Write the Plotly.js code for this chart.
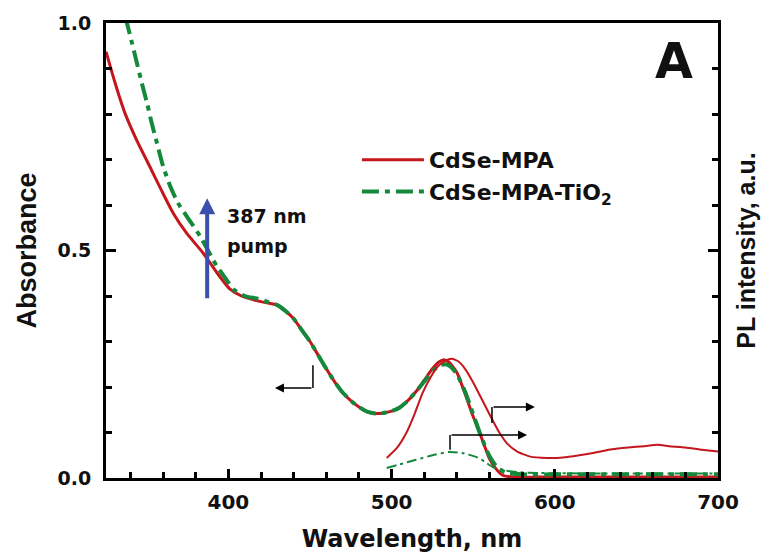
<!DOCTYPE html>
<html>
<head>
<meta charset="utf-8">
<script src="https://cdn.plot.ly/plotly-3.0.1.min.js"></script>
<style>html,body{margin:0;padding:0;background:#fff;}#chart{width:766px;height:557px;}</style>
</head>
<body>
<div id="chart"></div>
<script>
// ---- Data ----
// Absorbance, CdSe-MPA
const absMpaX = [325, 329, 333, 336.6, 344, 351.9, 359, 366.2, 374.4, 384.6, 392.8, 401, 408, 415, 422, 430, 435, 440, 445, 450, 455, 460, 465, 470, 475, 480, 485, 490, 495, 500, 505, 510, 515, 520, 525, 529, 532, 535, 540, 545, 550, 554, 557, 560, 564, 568, 575, 590, 620, 660, 700];
const absMpaY = [0.937, 0.887, 0.840, 0.802, 0.741, 0.684, 0.632, 0.582, 0.538, 0.494, 0.452, 0.415, 0.400, 0.392, 0.386, 0.380, 0.367, 0.350, 0.325, 0.300, 0.270, 0.240, 0.212, 0.188, 0.170, 0.156, 0.146, 0.142, 0.143, 0.147, 0.155, 0.170, 0.190, 0.215, 0.240, 0.255, 0.260, 0.255, 0.232, 0.185, 0.135, 0.099, 0.070, 0.042, 0.020, 0.006, 0.002, 0.002, 0.002, 0.002, 0.002];
// Absorbance, CdSe-MPA-TiO2
const absTiX = [337, 341, 344, 347, 350.2, 353, 356.3, 360, 364.5, 369, 374.7, 382.9, 393, 398, 403, 410, 418, 425, 430, 435, 440, 445, 450, 455, 460, 465, 470, 475, 480, 485, 490, 495, 500, 505, 510, 515, 520, 525, 530, 533, 536, 540, 545, 550, 555, 560, 565, 570, 580, 600, 650, 700];
const absTiY = [1.012, 0.955, 0.911, 0.867, 0.823, 0.780, 0.735, 0.685, 0.640, 0.605, 0.574, 0.530, 0.465, 0.440, 0.415, 0.400, 0.394, 0.386, 0.380, 0.367, 0.350, 0.325, 0.300, 0.270, 0.240, 0.212, 0.188, 0.170, 0.156, 0.146, 0.142, 0.143, 0.147, 0.155, 0.170, 0.190, 0.212, 0.235, 0.248, 0.250, 0.245, 0.228, 0.190, 0.140, 0.090, 0.048, 0.022, 0.012, 0.008, 0.008, 0.008, 0.008];
// PL, CdSe-MPA
const plMpaX = [497, 503, 509, 514, 519, 524, 528, 533, 537, 541, 545, 550, 556, 561, 566, 571, 577, 585, 595, 605, 615, 625, 635, 645, 655, 663, 670, 680, 690, 700];
const plMpaY = [0.044, 0.065, 0.099, 0.140, 0.187, 0.222, 0.244, 0.258, 0.262, 0.256, 0.240, 0.210, 0.168, 0.133, 0.100, 0.075, 0.058, 0.047, 0.044, 0.045, 0.050, 0.056, 0.063, 0.067, 0.070, 0.073, 0.070, 0.067, 0.062, 0.058];
// PL, CdSe-MPA-TiO2
const plTiX = [497, 505, 515, 525, 535, 543, 552, 557, 562, 570, 577, 590, 620, 660, 700];
const plTiY = [0.022, 0.030, 0.040, 0.050, 0.057, 0.055, 0.046, 0.036, 0.024, 0.016, 0.013, 0.011, 0.010, 0.010, 0.010];

const seriesNames = ['CdSe-MPA', 'CdSe-MPA-TiO<sub>2</sub>'];
const xTitle = 'Wavelength, nm';
const yTitle = 'Absorbance';
const y2Title = 'PL intensity, a.u.';
const panelLabel = 'A';
const pumpLines = ['387 nm', 'pump'];
const pumpWavelength = 387;

// ---- Styling ----
const RED = '#c4161c', GREEN = '#14893c', BLUE = '#3a50ac';
const DV = 'DejaVu Sans, sans-serif';
const AR = 'Liberation Sans, Arial, sans-serif';

const traces = [
  {x: absMpaX, y: absMpaY, name: seriesNames[0], type: 'scatter', mode: 'lines',
   line: {color: RED, width: 3, shape: 'spline', smoothing: 0.6}},
  {x: absTiX, y: absTiY, name: seriesNames[1], type: 'scatter', mode: 'lines',
   line: {color: GREEN, width: 4, dash: '17px,6px,5px,6px', shape: 'spline', smoothing: 0.6}},
  {x: plMpaX, y: plMpaY, name: seriesNames[0] + ' PL', type: 'scatter', mode: 'lines', yaxis: 'y2', showlegend: false,
   line: {color: RED, width: 2, shape: 'spline', smoothing: 0.5}},
  {x: plTiX, y: plTiY, name: seriesNames[1] + ' PL', type: 'scatter', mode: 'lines', yaxis: 'y2', showlegend: false,
   line: {color: GREEN, width: 2, dash: '10px,4px,3px,4px', shape: 'spline', smoothing: 0.5}}
];

const tickCommon = {ticks: 'inside', tickcolor: '#000', tickwidth: 2.5, showline: true, linecolor: '#000', linewidth: 3,
  showgrid: false, zeroline: false};

const layout = {
  width: 766, height: 557,
  margin: {l: 106, r: 48, t: 23, b: 79},
  paper_bgcolor: '#fff', plot_bgcolor: '#fff',
  showlegend: true,
  legend: {x: 0.41, y: 0.745, xanchor: 'left', yanchor: 'top', bgcolor: 'rgba(0,0,0,0)',
    font: {family: DV, size: 22, weight: 'bold', color: '#111'}, itemwidth: 62, tracegroupgap: 0},
  xaxis: Object.assign({}, tickCommon, {
    range: [325, 700], tick0: 0, dtick: 100, ticklen: 9, mirror: true,
    minor: {tick0: 0, dtick: 20, ticks: 'inside', ticklen: 6, tickwidth: 2.5, tickcolor: '#000', showgrid: false},
    tickfont: {family: DV, size: 20, weight: 'bold', color: '#111'}, ticklabelstandoff: 4,
    title: {text: xTitle, font: {family: DV, size: 24, weight: 'bold', color: '#111'}, standoff: 18}
  }),
  yaxis: Object.assign({}, tickCommon, {
    range: [0, 1], tick0: 0, dtick: 0.5, ticklen: 10, tickformat: '.1f',
    minor: {tick0: 0, dtick: 0.1, ticks: 'inside', ticklen: 6, tickwidth: 2.5, tickcolor: '#000', showgrid: false},
    tickfont: {family: DV, size: 19, weight: 'bold', color: '#111'}, ticklabelstandoff: 8,
    title: {text: yTitle, font: {family: AR, size: 27, weight: 'bold', color: '#111'}, standoff: 14}
  }),
  yaxis2: Object.assign({}, tickCommon, {
    overlaying: 'y', side: 'right', range: [0, 1], tick0: 0, dtick: 0.5, ticklen: 10, showticklabels: false,
    minor: {tick0: 0, dtick: 0.1, ticks: 'inside', ticklen: 6, tickwidth: 2.5, tickcolor: '#000', showgrid: false},
    title: {text: y2Title, font: {family: AR, size: 25, weight: 'bold', color: '#111'}, standoff: 18}
  }),
  shapes: [
    {type: 'line', xref: 'x', yref: 'y', x0: 451.8, x1: 451.8, y0: 0.248, y1: 0.198, line: {color: '#000', width: 1.5}},
    {type: 'line', xref: 'x', yref: 'y', x0: 561.5, x1: 561.5, y0: 0.121, y1: 0.156, line: {color: '#000', width: 1.5}},
    {type: 'line', xref: 'x', yref: 'y', x0: 535.8, x1: 535.8, y0: 0.062, y1: 0.0945, line: {color: '#000', width: 1.5}}
  ],
  annotations: [
    {xref: 'paper', yref: 'paper', x: 0.928, y: 0.915, text: panelLabel, showarrow: false, xanchor: 'center', yanchor: 'middle',
     font: {family: DV, size: 49, weight: 'bold', color: '#111'}},
    {xref: 'x', yref: 'y', x: 398, y: 0.576, text: pumpLines[0], showarrow: false, xanchor: 'left', yanchor: 'middle',
     font: {family: DV, size: 19, weight: 'bold', color: '#111'}},
    {xref: 'x', yref: 'y', x: 398, y: 0.51, text: pumpLines[1], showarrow: false, xanchor: 'left', yanchor: 'middle',
     font: {family: DV, size: 19, weight: 'bold', color: '#111'}},
    {xref: 'x', yref: 'y', axref: 'x', ayref: 'y', x: pumpWavelength, y: 0.615, ax: pumpWavelength, ay: 0.392, text: '',
     showarrow: true, arrowcolor: BLUE, arrowwidth: 4, arrowhead: 2, arrowsize: 0.8},
    {xref: 'x', yref: 'y', axref: 'x', ayref: 'y', x: 428.5, y: 0.198, ax: 451.8, ay: 0.198, text: '',
     showarrow: true, arrowcolor: '#000', arrowwidth: 1.5, arrowhead: 2, arrowsize: 1.2},
    {xref: 'x', yref: 'y', axref: 'x', ayref: 'y', x: 587.8, y: 0.156, ax: 561.5, ay: 0.156, text: '',
     showarrow: true, arrowcolor: '#000', arrowwidth: 1.5, arrowhead: 2, arrowsize: 1.2},
    {xref: 'x', yref: 'y', axref: 'x', ayref: 'y', x: 583, y: 0.0945, ax: 535.8, ay: 0.0945, text: '',
     showarrow: true, arrowcolor: '#000', arrowwidth: 1.5, arrowhead: 2, arrowsize: 1.2}
  ]
};

Plotly.newPlot('chart', traces, layout, {displayModeBar: false, responsive: false});
</script>
</body>
</html>
